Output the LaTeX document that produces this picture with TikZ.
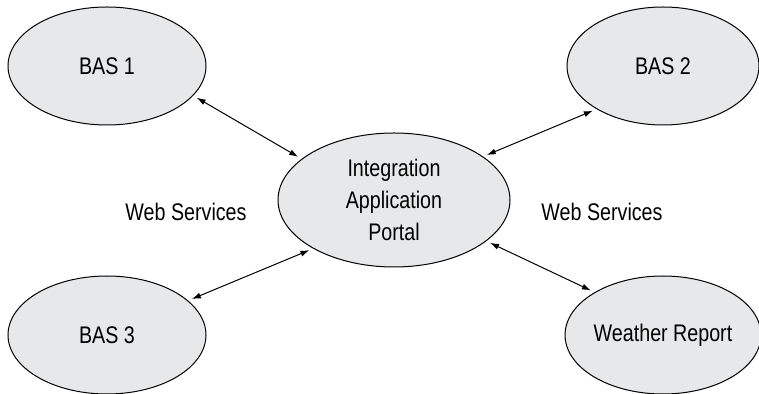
\documentclass[tikz,border=0pt]{standalone}
\usepackage{fontspec}
\setmainfont{Liberation Sans}[FakeStretch=0.82]
\usepackage{tikz}
\usetikzlibrary{positioning,arrows.meta,calc,shapes.geometric}
\definecolor{ellfill}{HTML}{E7E8E9}

\begin{document}
\begin{tikzpicture}[x=0.5pt,y=-0.5pt,
    sys/.style={ellipse,draw,line width=0.5pt,fill=ellfill,inner sep=0pt,
      minimum width=99pt,minimum height=59pt,font=\fontsize{12}{16}\selectfont,align=center},
    edge/.style={line width=0.5pt,{Latex[length=4.5pt,width=3pt]}-{Latex[length=4.5pt,width=3pt]},shorten <=2pt,shorten >=2pt},
    every node/.style={font=\fontsize{12}{16}\selectfont}]
  \useasboundingbox (0,0) rectangle (759,394);
  \node[sys] (bas1) at (107,66) {BAS 1};
  \node[sys,minimum width=96pt] (bas2) at (663,66) {BAS 2};
  \node[sys] (bas3) at (107,335) {BAS 3};
  \node[sys,minimum width=96pt] (weather) at (663,335) {Weather Report};
  \node[sys,minimum width=116pt,minimum height=67pt] (portal) at (394,200) {Integration\\Application\\Portal};
  \node (wsleft) at (186,212) {Web Services};
  \node (wsright) at (602,212) {Web Services};
  \draw[edge] (bas1.-19) -- (portal.156);
  \draw[edge] (portal.26) -- (bas2.213);
  \draw[edge] (bas3.23) -- (portal.211);
  \draw[edge] (portal.-24) -- (weather.148);
\end{tikzpicture}
\end{document}
